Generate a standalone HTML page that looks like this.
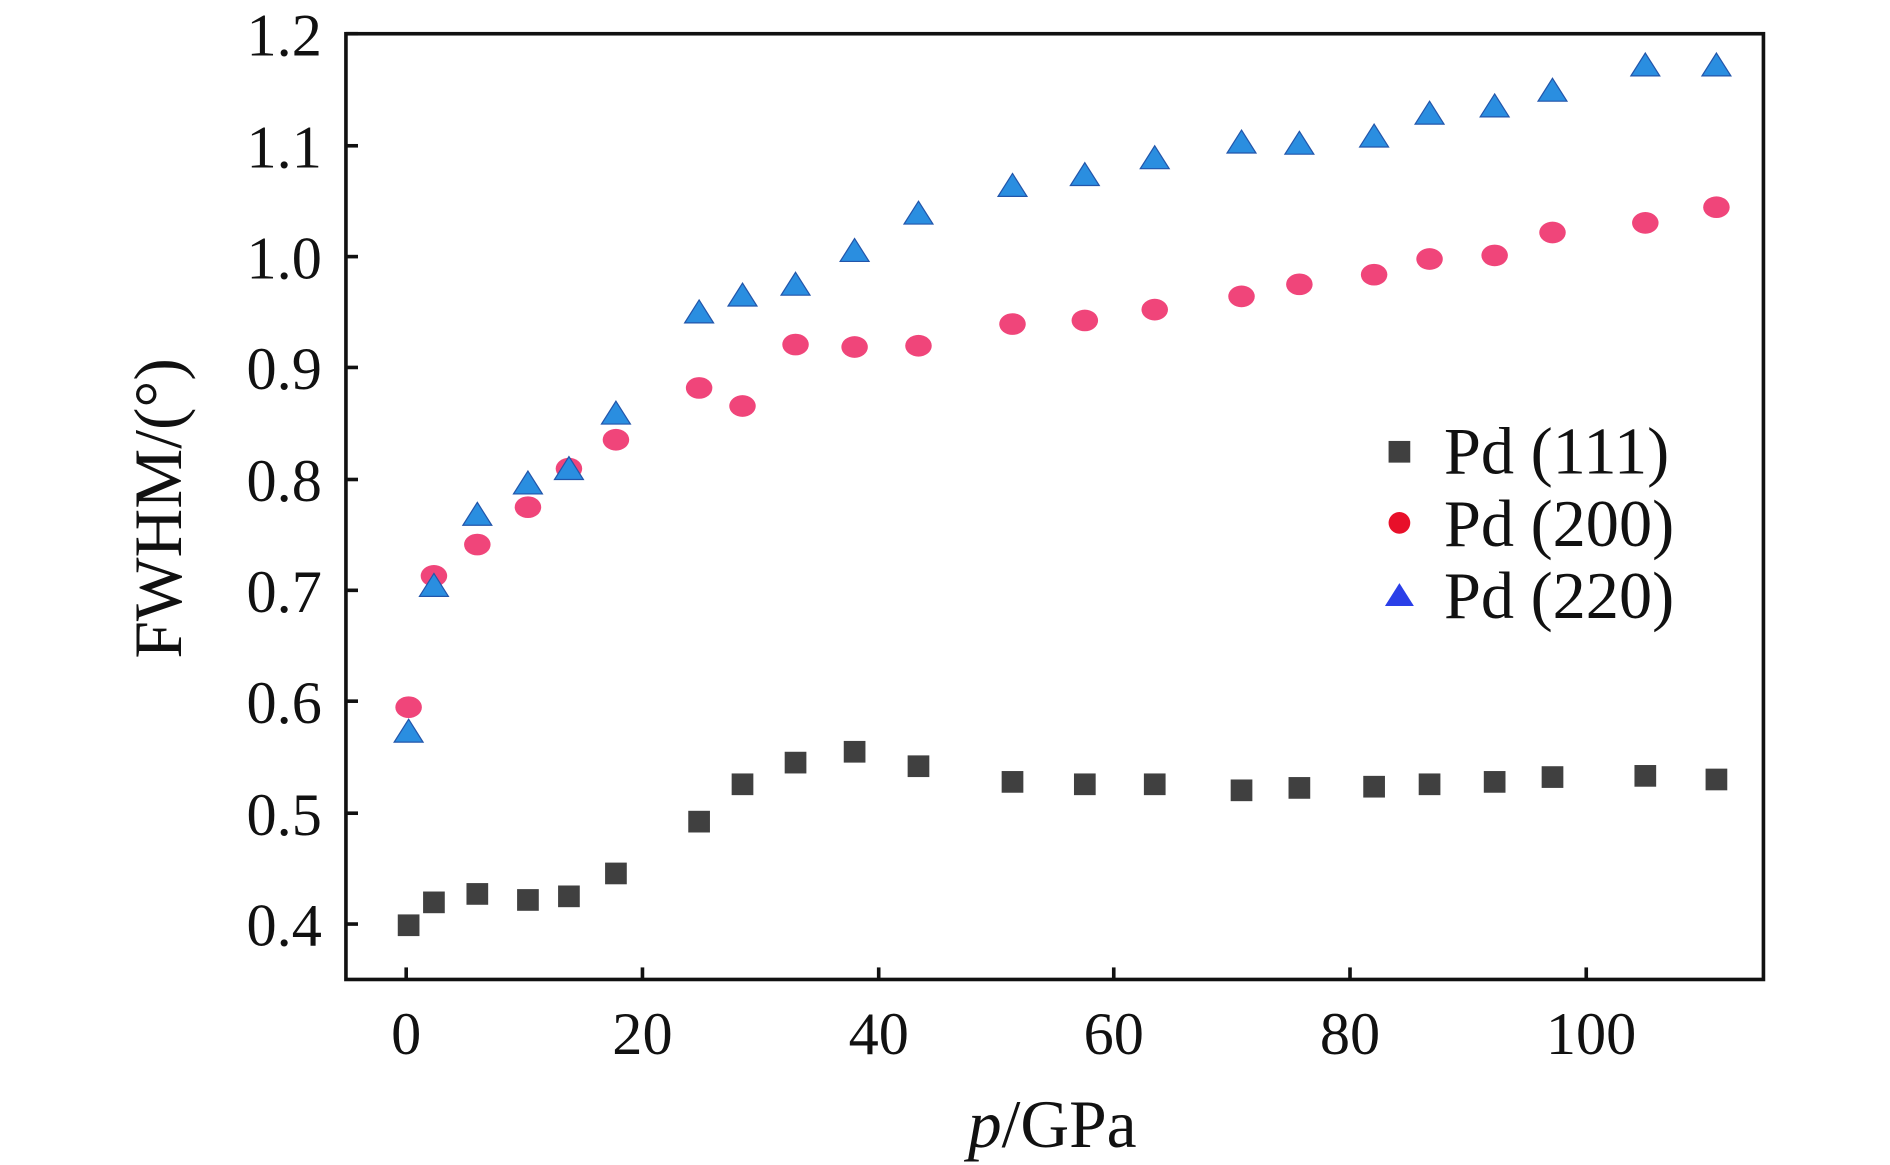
<!DOCTYPE html>
<html><head><meta charset="utf-8"><style>
html,body{margin:0;padding:0;background:#fff;}
svg{display:block;}
text{font-family:"Liberation Serif","Times New Roman",serif;fill:#111;}
</style></head><body>
<svg width="1890" height="1165" viewBox="0 0 1568 967" preserveAspectRatio="none" xmlns="http://www.w3.org/2000/svg">
<rect x="287" y="28" width="1176" height="785" fill="none" stroke="#111" stroke-width="3"/>
<g stroke="#111" stroke-width="3">
<line x1="337" y1="813" x2="337" y2="803"/><line x1="533" y1="813" x2="533" y2="803"/>
<line x1="729" y1="813" x2="729" y2="803"/><line x1="924" y1="813" x2="924" y2="803"/>
<line x1="1120" y1="813" x2="1120" y2="803"/><line x1="1316" y1="813" x2="1316" y2="803"/>
<line x1="287" y1="767" x2="297" y2="767"/><line x1="287" y1="675" x2="297" y2="675"/>
<line x1="287" y1="582" x2="297" y2="582"/><line x1="287" y1="490" x2="297" y2="490"/>
<line x1="287" y1="398" x2="297" y2="398"/><line x1="287" y1="305" x2="297" y2="305"/>
<line x1="287" y1="213" x2="297" y2="213"/><line x1="287" y1="121" x2="297" y2="121"/>
<line x1="287" y1="28" x2="297" y2="28"/>
</g>
<g font-size="50" text-anchor="middle">
<text x="337" y="875">0</text><text x="533" y="875">20</text><text x="729" y="875">40</text>
<text x="924" y="875">60</text><text x="1120" y="875">80</text><text x="1320" y="875">100</text>
</g>
<g font-size="50" text-anchor="end">
<text x="267" y="785">0.4</text><text x="267" y="693">0.5</text><text x="267" y="600">0.6</text>
<text x="267" y="508">0.7</text><text x="267" y="416">0.8</text><text x="267" y="323">0.9</text>
<text x="267" y="231">1.0</text><text x="267" y="139">1.1</text><text x="267" y="46">1.2</text>
</g>
<text x="873" y="952" font-size="56" text-anchor="middle"><tspan font-style="italic">p</tspan>/GPa</text>
<text transform="translate(150,422) rotate(-90)" font-size="56" text-anchor="middle">FWHM/(°)</text>
<g fill="#404040">
<rect x="330" y="759" width="18" height="18"/><rect x="351" y="740" width="18" height="18"/>
<rect x="387" y="733" width="18" height="18"/><rect x="429" y="738" width="18" height="18"/>
<rect x="463" y="735" width="18" height="18"/><rect x="502" y="716" width="18" height="18"/>
<rect x="571" y="673" width="18" height="18"/><rect x="607" y="642" width="18" height="18"/>
<rect x="651" y="624" width="18" height="18"/><rect x="700" y="615" width="18" height="18"/>
<rect x="753" y="627" width="18" height="18"/><rect x="831" y="640" width="18" height="18"/>
<rect x="891" y="642" width="18" height="18"/><rect x="949" y="642" width="18" height="18"/>
<rect x="1021" y="647" width="18" height="18"/><rect x="1069" y="645" width="18" height="18"/>
<rect x="1131" y="644" width="18" height="18"/><rect x="1177" y="642" width="18" height="18"/>
<rect x="1231" y="640" width="18" height="18"/><rect x="1279" y="636" width="18" height="18"/>
<rect x="1356" y="635" width="18" height="18"/><rect x="1415" y="638" width="18" height="18"/>
<rect x="1152" y="366" width="18" height="18"/>
</g>
<g fill="#f0457a">
<ellipse cx="339" cy="587" rx="11" ry="9"/><ellipse cx="360" cy="478" rx="11" ry="9"/>
<ellipse cx="396" cy="452" rx="11" ry="9"/><ellipse cx="438" cy="421" rx="11" ry="9"/>
<ellipse cx="472" cy="389" rx="11" ry="9"/><ellipse cx="511" cy="365" rx="11" ry="9"/>
<ellipse cx="580" cy="322" rx="11" ry="9"/><ellipse cx="616" cy="337" rx="11" ry="9"/>
<ellipse cx="660" cy="286" rx="11" ry="9"/><ellipse cx="709" cy="288" rx="11" ry="9"/>
<ellipse cx="762" cy="287" rx="11" ry="9"/><ellipse cx="840" cy="269" rx="11" ry="9"/>
<ellipse cx="900" cy="266" rx="11" ry="9"/><ellipse cx="958" cy="257" rx="11" ry="9"/>
<ellipse cx="1030" cy="246" rx="11" ry="9"/><ellipse cx="1078" cy="236" rx="11" ry="9"/>
<ellipse cx="1140" cy="228" rx="11" ry="9"/><ellipse cx="1186" cy="215" rx="11" ry="9"/>
<ellipse cx="1240" cy="212" rx="11" ry="9"/><ellipse cx="1288" cy="193" rx="11" ry="9"/>
<ellipse cx="1365" cy="185" rx="11" ry="9"/><ellipse cx="1424" cy="172" rx="11" ry="9"/>
</g>
<ellipse cx="1161" cy="434" rx="9" ry="9" fill="#e8102a"/>
<g fill="#2a8ee0" stroke="#2255aa" stroke-width="1">
<path d="M339 597l12 19h-24z"/><path d="M360 476l12 19h-24z"/>
<path d="M396 417l12 19h-24z"/><path d="M438 391l12 19h-24z"/>
<path d="M472 379l12 19h-24z"/><path d="M511 333l12 19h-24z"/>
<path d="M580 249l12 19h-24z"/><path d="M616 235l12 19h-24z"/>
<path d="M660 226l12 19h-24z"/><path d="M709 198l12 19h-24z"/>
<path d="M762 167l12 19h-24z"/><path d="M840 144l12 19h-24z"/>
<path d="M900 135l12 19h-24z"/><path d="M958 121l12 19h-24z"/>
<path d="M1030 108l12 19h-24z"/><path d="M1078 109l12 19h-24z"/>
<path d="M1140 103l12 19h-24z"/><path d="M1186 84l12 19h-24z"/>
<path d="M1240 78l12 19h-24z"/><path d="M1288 65l12 19h-24z"/>
<path d="M1365 44l12 19h-24z"/><path d="M1424 44l12 19h-24z"/>
</g>
<path d="M1161 484l12 19h-24z" fill="#2a3fe8"/>
<g font-size="55">
<text x="1198" y="393">Pd (111)</text>
<text x="1198" y="453">Pd (200)</text>
<text x="1198" y="513">Pd (220)</text>
</g>
</svg>
</body></html>
